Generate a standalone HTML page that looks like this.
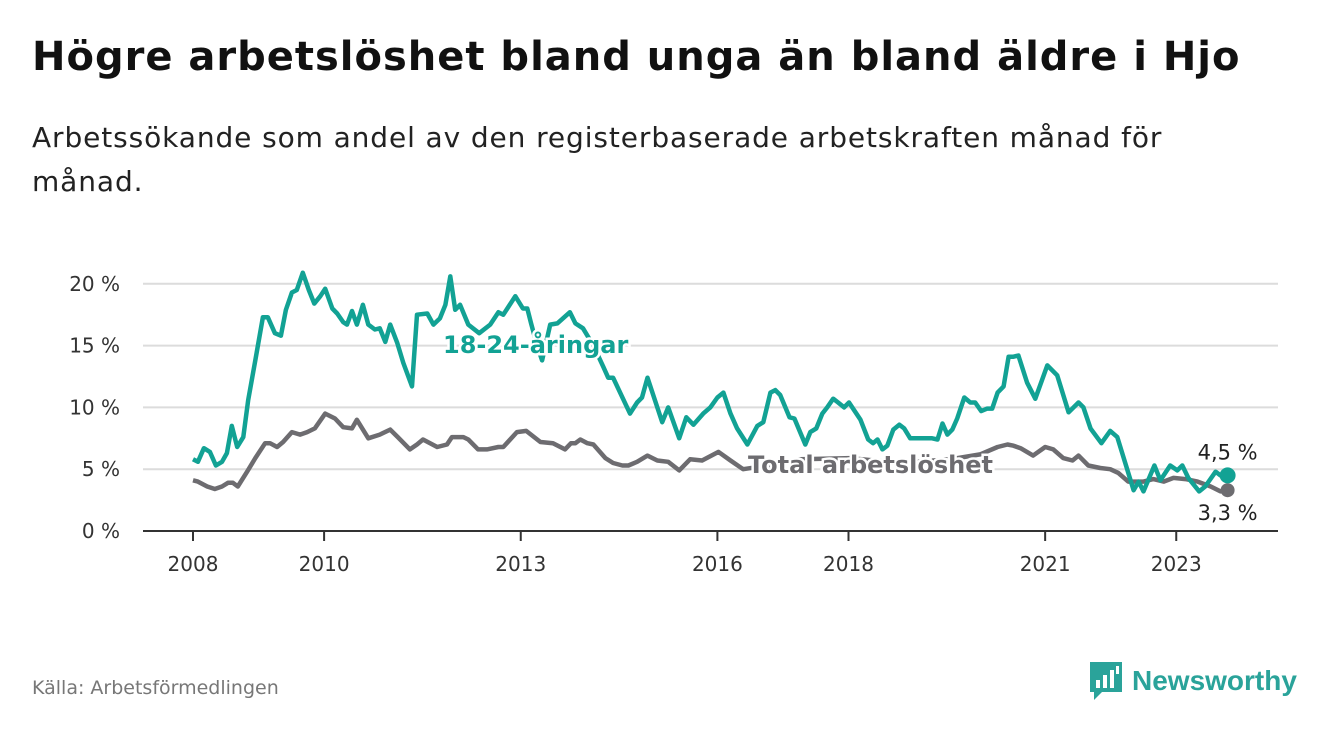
<!DOCTYPE html>
<html><head><meta charset="utf-8">
<style>
body{margin:0;width:1340px;height:734px;background:#fff;font-family:"DejaVu Sans","Liberation Sans",sans-serif;overflow:hidden;position:relative}
#title{position:absolute;left:32px;top:34px;font-size:40px;font-weight:bold;color:#111;margin:0;letter-spacing:1px;white-space:nowrap}
#subtitle{position:absolute;left:32px;top:116px;font-size:28px;color:#222;line-height:44px;width:1200px;letter-spacing:0.9px}
#source{position:absolute;left:32px;top:677px;font-size:19px;color:#777}
#logo{position:absolute;left:1088px;top:660px;display:flex;align-items:center}
#logo span{font-size:28px;font-weight:bold;color:#2aa39a;margin-left:8px;font-family:"Liberation Sans",sans-serif}
svg{position:absolute;left:0;top:0}
</style></head><body>
<h1 id="title">Högre arbetslöshet bland unga än bland äldre i Hjo</h1>
<div id="subtitle">Arbetssökande som andel av den registerbaserade arbetskraften månad för månad.</div>
<div id="source">Källa: Arbetsförmedlingen</div>
<div id="logo">
<svg width="36" height="42" viewBox="0 0 36 42" style="position:static"><path d="M2 2h32v30H14l-8 8v-8H2z" fill="#2aa39a"/><rect x="8" y="20" width="4" height="8" fill="#fff"/><rect x="15" y="15" width="4" height="13" fill="#fff"/><rect x="22" y="10" width="4" height="18" fill="#fff"/><rect x="28" y="6" width="3" height="8" fill="#fff"/></svg>
<span>Newsworthy</span></div>
<svg id="chart" width="1340" height="734"></svg>
<script>
const yTicks=[0,5,10,15,20];
const xTickYears=[2008,2010,2013,2016,2018,2021,2023];
const youthMonths=[0,0.9,2,3.1,4.2,5.3,6.2,7.1,8.1,9.2,10.1,11.4,12.8,13.7,15,16.1,17,18.1,19,20.1,21.2,22.2,23.3,24.2,25.5,26.4,27.5,28.2,29.1,30,31.1,32.1,33.3,34.2,35.2,36.1,37.4,38.5,40.1,41,42.9,44,45.2,46.2,47.1,48,48.9,50.4,52.4,54.4,55.9,56.8,59,60.4,61.2,61.9,63,63.9,65.4,66.7,69,70,71.4,73.3,75.1,76,76.9,80,81.3,82.2,83.2,85.9,87,89,90.3,91.6,93.4,94.7,96,97.1,98.4,99.6,101.5,103.3,104.4,105.7,106.6,107.5,109.2,110.1,112.1,113,114.1,115.2,116.1,117.2,118.1,119.2,120.1,122.2,123.6,124.5,125.3,126.2,127.1,128.2,129.3,130.2,131.3,135.3,136.3,137.2,138.1,139,139.9,141.2,142.3,143.2,144.3,145.4,146.3,147.3,148.4,149.3,150.2,151.1,152.7,154.2,156.4,158.2,160.3,162.1,163,164.3,166.3,167.9,169.2,172.2,173.1,174,176,177.1,178.9,180.2,181.1,182.2,184.2,185.3,187.2,188.1,189.4];
const youthValues=[5.8,5.6,6.7,6.4,5.3,5.6,6.3,8.5,6.8,7.6,10.6,13.8,17.3,17.3,16,15.8,17.9,19.3,19.5,20.9,19.5,18.4,19,19.6,18,17.6,16.9,16.7,17.8,16.7,18.3,16.7,16.3,16.4,15.3,16.7,15.2,13.6,11.7,17.5,17.6,16.7,17.2,18.3,20.6,17.9,18.3,16.7,16,16.7,17.7,17.5,19,18,18,16.8,15,13.8,16.7,16.8,17.7,16.8,16.4,15,13.3,12.4,12.4,9.5,10.4,10.8,12.4,8.8,10,7.5,9.2,8.6,9.5,10,10.8,11.2,9.5,8.3,7,8.5,8.8,11.2,11.4,11,9.2,9.1,7,8,8.3,9.5,10,10.7,10.4,10,10.4,9,7.4,7.1,7.4,6.6,6.9,8.2,8.6,8.3,7.5,7.5,7.4,8.7,7.8,8.2,9.1,10.8,10.4,10.4,9.7,9.9,9.9,11.2,11.7,14.1,14.1,14.2,12,10.7,13.4,12.6,9.6,10.4,10,8.3,7.1,8.1,7.6,3.3,4,3.2,5.3,4.1,5.3,4.9,5.3,4.3,3.2,3.6,4.8,4.5,4.5];
const totalMonths=[0,0.9,2.6,4,5.3,6.4,7.3,8.2,9.9,11.4,13.2,14.1,15.4,16.5,18.1,19.6,20.9,22.3,24.2,26,27.5,29.1,30,32.1,34.2,36.1,37.5,39.7,41,42.1,43.4,44.7,46.5,47.4,49.5,50.4,52.2,53.8,55.9,56.8,59.3,61,63.6,65.9,68.1,69.2,70,70.9,72.2,73.3,75.5,76.9,78.6,79.7,81.3,83.2,85,87,89,91,93.2,96.2,98.4,100.7,103.8,111.2,120.3,129.5,138.6,144.1,147.3,149.1,150.2,151.5,153.8,156,157.5,159.3,161,162.1,163.9,166.1,167.9,169.4,171.2,174,175.8,177.7,179.5,181.7,183.9,186.3,188.1,189.4];
const totalValues=[4.1,4,3.6,3.4,3.6,3.9,3.9,3.6,4.8,5.9,7.1,7.1,6.8,7.2,8,7.8,8,8.3,9.5,9.1,8.4,8.3,9,7.5,7.8,8.2,7.6,6.6,7,7.4,7.1,6.8,7,7.6,7.6,7.4,6.6,6.6,6.8,6.8,8,8.1,7.2,7.1,6.6,7.1,7.1,7.4,7.1,7,5.9,5.5,5.3,5.3,5.6,6.1,5.7,5.6,4.9,5.8,5.7,6.4,5.7,5,5.2,5.8,5.9,5.5,5.8,6.2,6.8,7,6.9,6.7,6.1,6.8,6.6,5.9,5.7,6.1,5.3,5.1,5,4.7,4,4,4.2,4,4.3,4.2,4,3.6,3.2,3.3];
const youthLast="4,5 %", totalLast="3,3 %";

const NS="http://www.w3.org/2000/svg";
const svg=document.getElementById('chart');
const X=m=>193+m*5.4625;
const Y=v=>531-v*12.36;
function el(t,a,txt){const e=document.createElementNS(NS,t);for(const k in a)e.setAttribute(k,a[k]);if(txt!==undefined)e.textContent=txt;svg.appendChild(e);return e;}
yTicks.forEach(v=>{
  if(v>0){const g=el('line',{x1:143,x2:1278,y1:Y(v),y2:Y(v),stroke:'#dcdcdc','stroke-width':2});
  
  }
  const t=el('text',{x:120,y:Y(v)+7,'text-anchor':'end','font-size':20,fill:'#333'},v+' %');
  
  
});
const ax=el('line',{x1:143,x2:1278,y1:531,y2:531,stroke:'#333','stroke-width':2});


xTickYears.forEach(yr=>{
  const x=X((yr-2008)*12);
  const tk=el('line',{x1:x,x2:x,y1:531,y2:541,stroke:'#333','stroke-width':2});
  
  
  const t=el('text',{x:x,y:571,'text-anchor':'middle','font-size':20,fill:'#333'},String(yr));
  
  
});
function path(ms,vs){return ms.map((m,i)=>(i?'L':'M')+X(m).toFixed(1)+' '+Y(vs[i]).toFixed(1)).join(' ');}
const pt=el('path',{d:path(totalMonths,totalValues),fill:'none',stroke:'#6d6c70','stroke-width':4.5,'stroke-linejoin':'round'});


const py=el('path',{d:path(youthMonths,youthValues),fill:'none',stroke:'#12a294','stroke-width':4.5,'stroke-linejoin':'round'});


const lt=el('text',{x:748,y:473,'font-size':24,'font-weight':'bold',fill:'#6d6c70',stroke:'#fff','stroke-width':5,'paint-order':'stroke'},'Total arbetslöshet');


const ly=el('text',{x:443,y:353,'font-size':24,'font-weight':'bold',fill:'#12a294',stroke:'#fff','stroke-width':5,'paint-order':'stroke'},'18-24-åringar');


const lm=youthMonths[youthMonths.length-1], lv=youthValues[youthValues.length-1];
const tm=totalMonths[totalMonths.length-1], tv=totalValues[totalValues.length-1];
const d2=el('circle',{cx:X(tm),cy:Y(tv),r:7,fill:'#6d6c70'});


const d1=el('circle',{cx:X(lm),cy:Y(lv),r:8,fill:'#12a294'});


const v1=el('text',{x:X(lm),y:Y(lv)-16,'text-anchor':'middle','font-size':21,fill:'#222'},youthLast);


const v2=el('text',{x:X(tm),y:Y(tv)+30,'text-anchor':'middle','font-size':21,fill:'#222'},totalLast);


</script>
</body></html>
